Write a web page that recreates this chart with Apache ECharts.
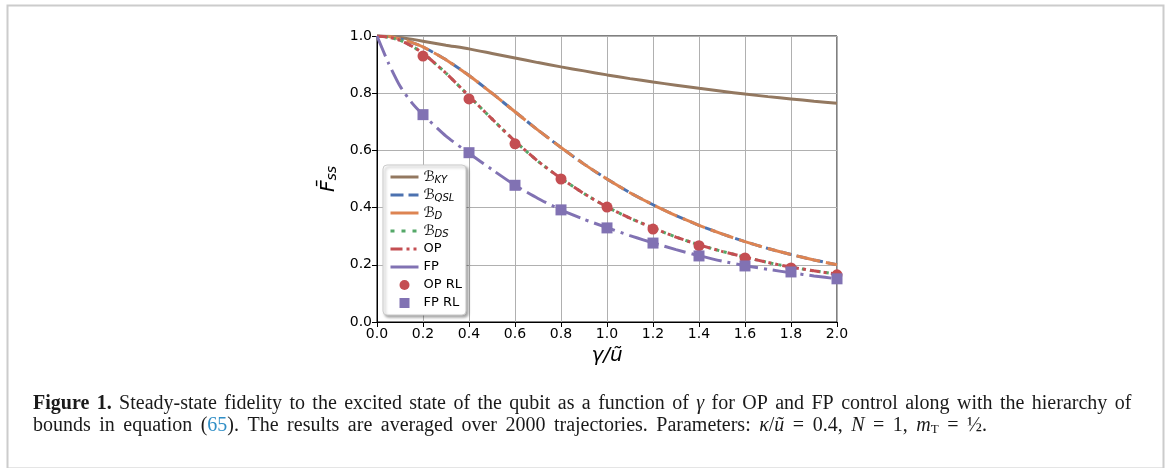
<!DOCTYPE html>
<html>
<head>
<meta charset="utf-8">
<script src="https://cdn.jsdelivr.net/npm/echarts@6/dist/echarts.min.js"></script>
<style>
  html, body { margin: 0; padding: 0; background: #fff; }
  #chart { width: 1165px; height: 468px; }
</style>
</head>
<body>
<div id="chart"></div>
<script>
// gamma / u~ values along the curves
const gammaCurve = [0, 0.05, 0.1, 0.15, 0.2, 0.3, 0.4, 0.5, 0.6, 0.7, 0.8, 0.9, 1.0,
                    1.1, 1.2, 1.3, 1.4, 1.5, 1.6, 1.7, 1.8, 1.9, 2.0];
// bounds and analytic controls
const boundKY  = [1.0, 0.999, 0.995, 0.989, 0.982, 0.968, 0.955, 0.939, 0.923, 0.907, 0.892, 0.878, 0.864,
                  0.851, 0.839, 0.828, 0.817, 0.807, 0.797, 0.788, 0.780, 0.772, 0.765];
const boundQSL = [1.0, 0.998, 0.99, 0.978, 0.962, 0.917, 0.862, 0.80, 0.735, 0.671, 0.61, 0.552, 0.50,
                  0.452, 0.41, 0.372, 0.338, 0.308, 0.281, 0.257, 0.236, 0.217, 0.20];
const boundD   = [1.0, 0.998, 0.99, 0.978, 0.962, 0.917, 0.862, 0.80, 0.735, 0.671, 0.61, 0.552, 0.50,
                  0.452, 0.41, 0.372, 0.338, 0.308, 0.281, 0.257, 0.236, 0.217, 0.20];
const boundDS  = [1.0, 0.996, 0.985, 0.965, 0.94, 0.87, 0.79, 0.71, 0.632, 0.562, 0.502, 0.449, 0.402,
                  0.363, 0.329, 0.297, 0.27, 0.247, 0.227, 0.208, 0.192, 0.179, 0.167];
const opCurve  = [1.0, 0.996, 0.985, 0.965, 0.94, 0.87, 0.79, 0.71, 0.632, 0.562, 0.502, 0.449, 0.402,
                  0.363, 0.329, 0.297, 0.27, 0.247, 0.227, 0.208, 0.192, 0.179, 0.167];
const fpCurve  = [1.0, 0.905, 0.825, 0.768, 0.725, 0.65, 0.59, 0.533, 0.478, 0.432, 0.392, 0.359, 0.33,
                  0.302, 0.277, 0.253, 0.232, 0.213, 0.197, 0.184, 0.172, 0.161, 0.151];
// RL points
const gammaRL = [0.2, 0.4, 0.6, 0.8, 1.0, 1.2, 1.4, 1.6, 1.8, 2.0];
const opRL    = [0.93, 0.78, 0.623, 0.50, 0.402, 0.325, 0.267, 0.224, 0.189, 0.165];
const fpRL    = [0.725, 0.592, 0.478, 0.392, 0.329, 0.276, 0.231, 0.196, 0.175, 0.151];
const xTicks  = ['0.0', '0.2', '0.4', '0.6', '0.8', '1.0', '1.2', '1.4', '1.6', '1.8', '2.0'];

// caption words (justified by hand)
const captionLine1 = ['{bf|Figure}', '{bf|1.}', 'Steady-state', 'fidelity', 'to', 'the', 'excited', 'state',
  'of', 'the', 'qubit', 'as', 'a', 'function', 'of', '{i|γ}', 'for', 'OP', 'and', 'FP', 'control',
  'along', 'with', 'the', 'hierarchy', 'of'];
const captionLine2 = ['bounds', 'in', 'equation', '({c|65}).', 'The', 'results', 'are', 'averaged', 'over',
  '2000', 'trajectories.', 'Parameters:', '{i|κ}/{i|ũ}', '=', '0.4,', '{i|N}', '=', '1,', '{i|m}{s|T}', '=', '½.'];

const colors = {
  KY: '#937860', QSL: '#4c72b0', D: '#dd8452', DS: '#55a868', OP: '#c44e52', FP: '#8172b3'
};

const chart = echarts.init(document.getElementById('chart'));

function pairs(xs, ys) {
  return xs.map((x, i) => [x, ys[i]]);
}

function lineSeries(name, ys, color, dash) {
  return {
    name: name,
    type: 'line',
    data: pairs(gammaCurve, ys),
    smooth: 0.2,
    symbol: 'none',
    showSymbol: false,
    itemStyle: { color: color },
    lineStyle: { color: color, width: 3, type: dash, cap: 'butt' },
    emphasis: { disabled: true },
    animation: false
  };
}

// legend labels with script B and subscripts
const legendLabels = {
  'KY': '{b|ℬ}{s|KY}',
  'QSL': '{b|ℬ}{s|QSL}',
  'D': '{b|ℬ}{s|D}',
  'DS': '{b|ℬ}{s|DS}',
  'OP': 'OP',
  'FP': 'FP',
  'OP RL': 'OP RL',
  'FP RL': 'FP RL'
};
const hideSym = { opacity: 0 };

const captionFont = 20;
const captionRich = {
  bf: { fontFamily: 'Liberation Serif', fontWeight: 'bold', fontSize: captionFont, fill: '#1a1a1a' },
  i: { fontFamily: 'Liberation Serif', fontStyle: 'italic', fontSize: captionFont, fill: '#1a1a1a' },
  c: { fontFamily: 'Liberation Serif', fontSize: captionFont, fill: '#2f8ec6' },
  s: { fontFamily: 'Liberation Serif', fontSize: 13, fill: '#1a1a1a', padding: [8, 0, 0, 0] },
  w1: { fontFamily: 'Liberation Serif', fontSize: captionFont, width: 7.4 },
  w2: { fontFamily: 'Liberation Serif', fontSize: captionFont, width: 8.5 }
};

const option = {
  backgroundColor: '#fff',
  animation: false,
  grid: {
    left: 377, right: 328, top: 36, bottom: 146,
    show: true, borderColor: '#000', borderWidth: 1, backgroundColor: 'transparent'
  },
  xAxis: {
    type: 'value', min: 0, max: 2, interval: 0.2,
    name: '{n|γ/ũ}', nameLocation: 'middle', nameGap: 20,
    nameTextStyle: { rich: { n: { fontFamily: 'DejaVu Sans', fontStyle: 'italic', fontSize: 20, color: '#000' } } },
    axisLine: { show: true, lineStyle: { color: '#000', width: 1 } },
    axisTick: { show: true, length: 5, lineStyle: { color: '#000' } },
    axisLabel: {
      fontFamily: 'DejaVu Sans', fontSize: 14, color: '#000', margin: 5,
      formatter: v => xTicks[Math.round(v / 0.2)]
    },
    splitLine: { show: true, lineStyle: { color: '#b0b0b0', width: 1 } }
  },
  yAxis: {
    type: 'value', min: 0, max: 1, interval: 0.2,
    name: '{f|F̄}{s|ss}', nameLocation: 'middle', nameGap: 38, nameRotate: 90,
    nameTextStyle: {
      rich: {
        f: { fontFamily: 'DejaVu Sans', fontStyle: 'italic', fontSize: 20, color: '#000' },
        s: { fontFamily: 'DejaVu Sans', fontStyle: 'italic', fontSize: 14, color: '#000', padding: [6, 0, 0, 0] }
      }
    },
    axisLine: { show: true, lineStyle: { color: '#000', width: 1 } },
    axisTick: { show: true, length: 5, lineStyle: { color: '#000' } },
    axisLabel: {
      fontFamily: 'DejaVu Sans', fontSize: 14, color: '#000', margin: 5,
      formatter: v => v.toFixed(1)
    },
    splitLine: { show: true, lineStyle: { color: '#b0b0b0', width: 1 } }
  },
  legend: {
    orient: 'vertical',
    left: 383, top: 165,
    itemWidth: 28, itemHeight: 10, itemGap: 2,
    padding: [4, 4, 4, 6],
    backgroundColor: '#fff',
    borderColor: '#cccccc', borderWidth: 1, borderRadius: 4,
    shadowColor: 'rgba(0,0,0,0.35)', shadowBlur: 3, shadowOffsetX: 2, shadowOffsetY: 2,
    selectedMode: false,
    lineStyle: { width: 3 },
    data: [
      { name: 'KY', itemStyle: hideSym },
      { name: 'QSL', itemStyle: hideSym, lineStyle: { type: [13, 5], width: 3 } },
      { name: 'D', itemStyle: hideSym, lineStyle: { type: 'solid', width: 3 } },
      { name: 'DS', itemStyle: hideSym, lineStyle: { type: [4, 7], width: 3 } },
      { name: 'OP', itemStyle: hideSym, lineStyle: { type: [12, 4, 3, 4, 3, 4], width: 3 } },
      { name: 'FP', itemStyle: hideSym, lineStyle: { type: 'solid', width: 3 } },
      { name: 'OP RL', icon: 'circle' },
      { name: 'FP RL', icon: 'path://M0,0h10v10h-10z' }
    ],
    formatter: name => legendLabels[name],
    textStyle: {
      fontFamily: 'DejaVu Sans', fontSize: 13, color: '#000', lineHeight: 16,
      rich: {
        b: { fontFamily: 'DejaVu Sans', fontStyle: 'italic', fontSize: 14, color: '#000', lineHeight: 16 },
        s: { fontFamily: 'DejaVu Sans', fontStyle: 'italic', fontSize: 10, color: '#000', lineHeight: 10, verticalAlign: 'bottom' }
      }
    }
  },
  series: [
    lineSeries('KY', boundKY, colors.KY, 'solid'),
    lineSeries('QSL', boundQSL, colors.QSL, [11, 5]),
    lineSeries('D', boundD, colors.D, [24, 6]),
    lineSeries('DS', boundDS, colors.DS, [3, 5]),
    lineSeries('OP', opCurve, colors.OP, [10, 4, 3, 4, 3, 4]),
    lineSeries('FP', fpCurve, colors.FP, [22, 6, 3, 6]),
    {
      name: 'OP RL', type: 'scatter', data: pairs(gammaRL, opRL),
      symbol: 'circle', symbolSize: 11,
      itemStyle: { color: colors.OP, opacity: 1 }, z: 3
    },
    {
      name: 'FP RL', type: 'scatter', data: pairs(gammaRL, fpRL),
      symbol: 'rect', symbolSize: 11,
      itemStyle: { color: colors.FP, opacity: 1 }, z: 3
    }
  ],
  graphic: [
    {
      type: 'rect', left: 5, top: 3, silent: true,
      shape: { width: 1156, height: 463 },
      style: { fill: 'none', stroke: '#cccccc', lineWidth: 2 }
    },
    {
      type: 'text', left: 33, top: 394, silent: true,
      style: {
        text: captionLine1.join('{w1| }'),
        font: captionFont + 'px "Liberation Serif"', fill: '#1a1a1a',
        rich: captionRich
      }
    },
    {
      type: 'text', left: 33, top: 416, silent: true,
      style: {
        text: captionLine2.join('{w2| }'),
        font: captionFont + 'px "Liberation Serif"', fill: '#1a1a1a',
        rich: captionRich
      }
    }
  ]
};

chart.setOption(option);
window.addEventListener('resize', () => chart.resize());
</script>
</body>
</html>
